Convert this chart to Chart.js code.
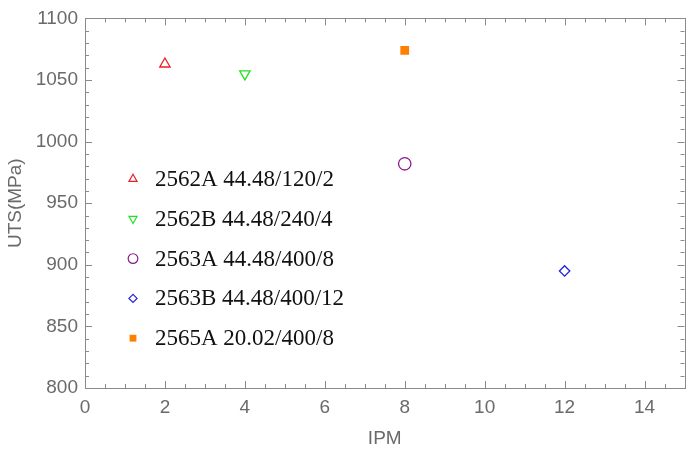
<!DOCTYPE html>
<html>
<head>
<meta charset="utf-8">
<script src="https://cdn.jsdelivr.net/npm/chart.js@4/dist/chart.umd.min.js"></script>
<style>
html,body{margin:0;padding:0;background:#fff;}
#wrap{width:692px;height:454px;position:relative;}
</style>
</head>
<body>
<div id="wrap"><canvas id="c" width="692" height="454"></canvas></div>
<script>
const seriesLabels = ['2562A 44.48/120/2', '2562B 44.48/240/4', '2563A 44.48/400/8', '2563B 44.48/400/12', '2565A 20.02/400/8'];
const ipmValues = [2, 4, 8, 12, 8];
const utsValues = [1063, 1055, 982, 895, 1074];
const seriesColors = ['#e8202a', '#22e022', '#8a1a8a', '#2222dd', '#ff8000'];
const seriesStyles = ['triangle', 'triangle', 'circle', 'rectRot', 'rect'];
const seriesRotation = [0, 180, 0, 0, 0];
const seriesRadius = [6, 6, 6.2, 5.2, 6.2];
const seriesFilled = [false, false, false, false, true];
const xTickLabels = [0, 2, 4, 6, 8, 10, 12, 14];
const yTickLabels = [800, 850, 900, 950, 1000, 1050, 1100];

const datasets = seriesLabels.map((lab, i) => ({
  label: lab,
  data: [{x: ipmValues[i], y: utsValues[i]}],
  pointStyle: seriesStyles[i],
  rotation: seriesRotation[i],
  pointRadius: seriesRadius[i],
  pointHoverRadius: seriesRadius[i],
  borderColor: seriesColors[i],
  backgroundColor: seriesFilled[i] ? seriesColors[i] : 'rgba(0,0,0,0)',
  borderWidth: seriesFilled[i] ? 0 : 1.3
}));

const axisColor = '#8a8a8a';
const labelColor = '#6a6a6a';
const sansFont = '"Liberation Sans", Arial, sans-serif';

function drawMarker(ctx, style, rot, r, x, y, color, filled) {
  ctx.save();
  ctx.beginPath();
  const rad = rot * Math.PI / 180;
  if (style === 'triangle') {
    let a = rad;
    ctx.moveTo(x + Math.sin(a) * r, y - Math.cos(a) * r);
    a += 2 * Math.PI / 3;
    ctx.lineTo(x + Math.sin(a) * r, y - Math.cos(a) * r);
    a += 2 * Math.PI / 3;
    ctx.lineTo(x + Math.sin(a) * r, y - Math.cos(a) * r);
    ctx.closePath();
  } else if (style === 'circle') {
    ctx.arc(x, y, r, 0, Math.PI * 2);
  } else if (style === 'rectRot') {
    ctx.moveTo(x - r, y); ctx.lineTo(x, y - r); ctx.lineTo(x + r, y); ctx.lineTo(x, y + r); ctx.closePath();
  } else {
    const s = Math.SQRT1_2 * r;
    ctx.rect(x - s, y - s, 2 * s, 2 * s);
  }
  if (filled) { ctx.fillStyle = color; ctx.fill(); }
  else { ctx.strokeStyle = color; ctx.lineWidth = 1.2; ctx.stroke(); }
  ctx.restore();
}

const framePlugin = {
  id: 'frame',
  beforeDatasetsDraw(chart) {
    const ctx = chart.ctx;
    const xs = chart.scales.x, ys = chart.scales.y;
    const L = xs.left, R = xs.right, T = ys.top, B = ys.bottom;
    ctx.save();
    ctx.strokeStyle = axisColor;
    ctx.lineWidth = 1;
    ctx.strokeRect(Math.round(L) + 0.5, Math.round(T) + 0.5, Math.round(R - L), Math.round(B - T));
    ctx.beginPath();
    for (let v = xs.min; v <= xs.max + 1e-9; v += 0.5) {
      const px = Math.round(xs.getPixelForValue(v)) + 0.5;
      const len = (Math.abs(v % 2) < 1e-9) ? 7 : 4;
      ctx.moveTo(px, B); ctx.lineTo(px, B - len);
      ctx.moveTo(px, T); ctx.lineTo(px, T + len);
    }
    for (let v = ys.min; v <= ys.max + 1e-9; v += 10) {
      const py = Math.round(ys.getPixelForValue(v)) + 0.5;
      const len = (Math.abs(v % 50) < 1e-9) ? 7 : 4;
      ctx.moveTo(L, py); ctx.lineTo(L + len, py);
      ctx.moveTo(R, py); ctx.lineTo(R - len, py);
    }
    ctx.stroke();
    ctx.restore();
  },
  afterDraw(chart) {
    const ctx = chart.ctx;
    const x0 = 133, tx = 155, y0 = 179, dy = 39.8;
    ctx.save();
    ctx.font = '23px "Liberation Serif", "Times New Roman", serif';
    ctx.fillStyle = '#111';
    ctx.textBaseline = 'middle';
    chart.data.datasets.forEach((ds, i) => {
      const y = y0 + i * dy;
      drawMarker(ctx, seriesStyles[i], seriesRotation[i], seriesRadius[i] * 0.78, x0, y, seriesColors[i], seriesFilled[i]);
      ctx.fillText(ds.label, tx, y + 1);
    });
    ctx.restore();
  }
};

new Chart(document.getElementById('c'), {
  type: 'scatter',
  data: { datasets },
  options: {
    responsive: false,
    animation: false,
    events: [],
    layout: { padding: { top: 16, right: 6, left: 0, bottom: 0 } },
    plugins: { legend: { display: false }, tooltip: { enabled: false } },
    scales: {
      x: {
        type: 'linear', min: 0, max: 15,
        grid: { display: false, drawTicks: false },
        border: { display: false },
        afterBuildTicks: s => { s.ticks = xTickLabels.map(v => ({ value: v })); },
        afterFit: s => { s.height = 66; },
        ticks: { color: labelColor, padding: 8, callback: v => String(v), font: { family: sansFont, size: 19 } },
        title: { display: true, text: 'IPM', color: labelColor, padding: { top: 0, bottom: 4 }, font: { family: sansFont, size: 19 } }
      },
      y: {
        type: 'linear', min: 800, max: 1100,
        grid: { display: false, drawTicks: false },
        border: { display: false },
        afterBuildTicks: s => { s.ticks = yTickLabels.map(v => ({ value: v })); },
        afterFit: s => { s.width = 85; },
        ticks: { color: labelColor, padding: 7, callback: v => String(v), font: { family: sansFont, size: 19 } },
        title: { display: true, text: 'UTS(MPa)', color: labelColor, padding: { top: 4, bottom: 0 }, font: { family: sansFont, size: 19 } }
      }
    }
  },
  plugins: [framePlugin]
});
</script>
</body>
</html>
